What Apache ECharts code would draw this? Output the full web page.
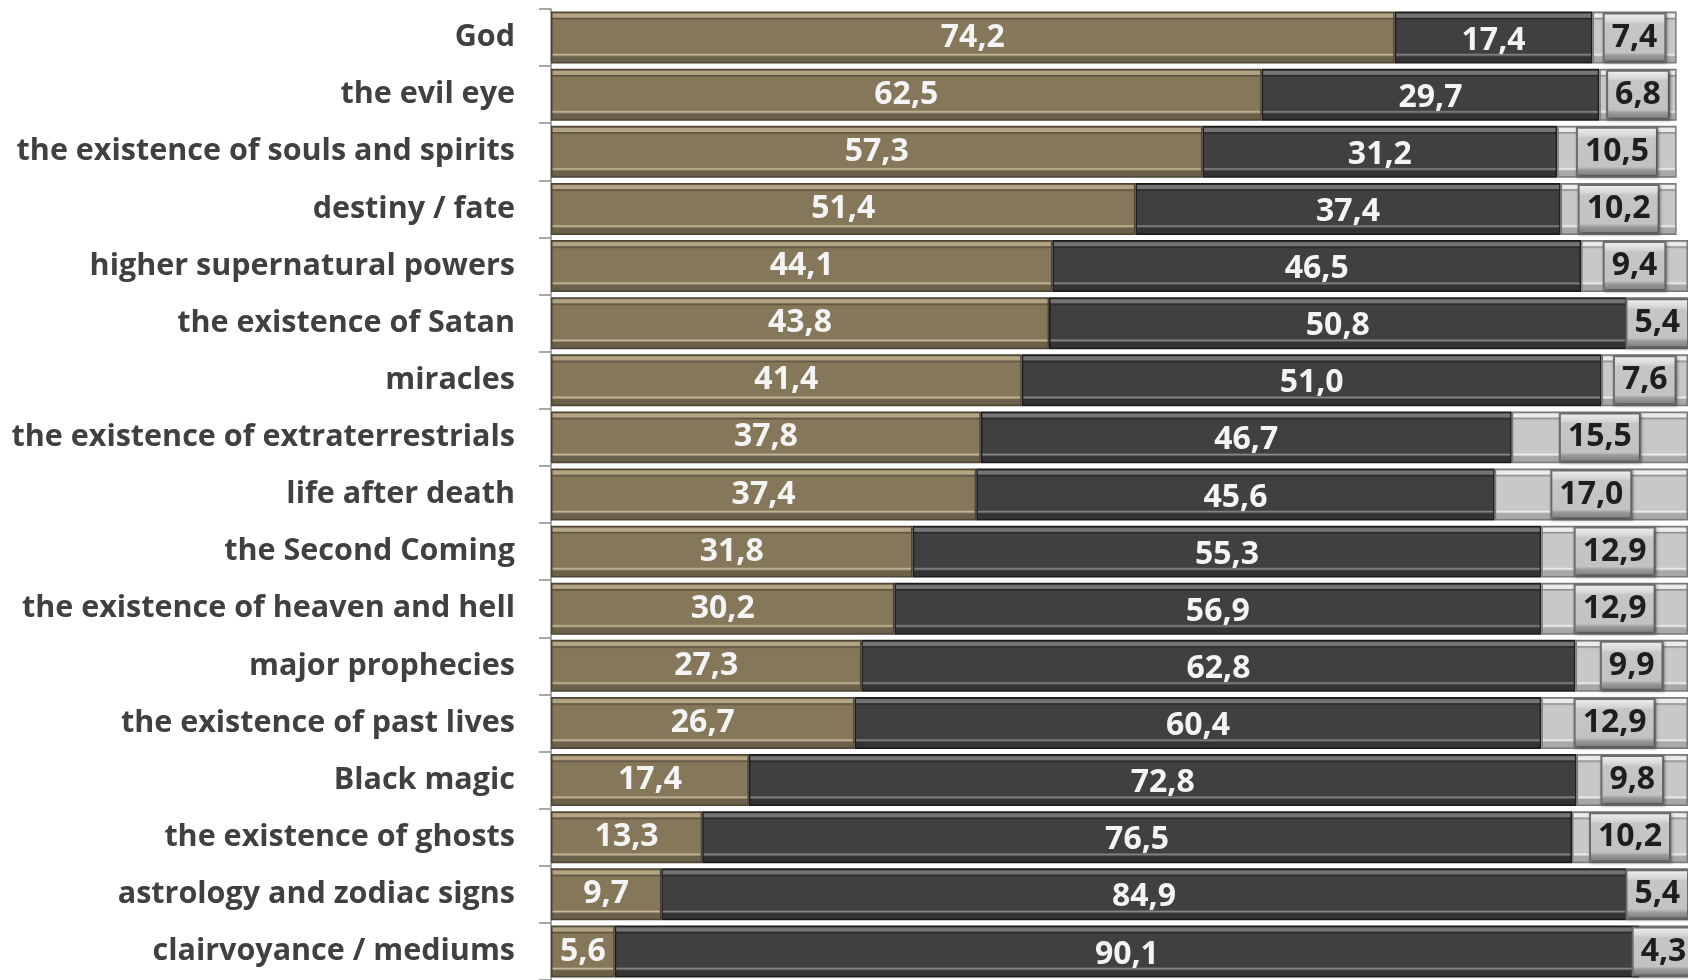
<!DOCTYPE html>
<html>
<head>
<meta charset="utf-8">
<script src="https://cdn.jsdelivr.net/npm/echarts@6/dist/echarts.min.js"></script>
<style>
html,body{margin:0;padding:0;background:#fff;}
#c{width:1688px;height:980px;}
</style>
</head>
<body>
<div id="c"></div>
<script>
var categories = ["God","the evil eye","the existence of souls and spirits","destiny / fate","higher supernatural powers","the existence of Satan","miracles","the existence of extraterrestrials","life after death","the Second Coming","the existence of heaven and hell","major prophecies","the existence of past lives","Black magic","the existence of ghosts","astrology and zodiac signs","clairvoyance / mediums"];
var believe = [74.2,62.5,57.3,51.4,44.1,43.8,41.4,37.8,37.4,31.8,30.2,27.3,26.7,17.4,13.3,9.7,5.6];
var notBelieve = [17.4,29.7,31.2,37.4,46.5,50.8,51.0,46.7,45.6,55.3,56.9,62.8,60.4,72.8,76.5,84.9,90.1];
var dontKnow = [7.4,6.8,10.5,10.2,9.4,5.4,7.6,15.5,17.0,12.9,12.9,9.9,12.9,9.8,10.2,5.4,4.3];

function bevel(edge, hi, innerDark, main, lo, bottom, outer) {
  return new echarts.graphic.LinearGradient(0, 0, 0, 1, [
    {offset: 0, color: outer},
    {offset: 0.03, color: edge},
    {offset: 0.05, color: hi},
    {offset: 0.11, color: hi},
    {offset: 0.13, color: innerDark},
    {offset: 0.17, color: main},
    {offset: 0.80, color: main},
    {offset: 0.83, color: lo},
    {offset: 0.87, color: bottom},
    {offset: 0.96, color: bottom},
    {offset: 1, color: outer}
  ]);
}
var tanFill = bevel('#7d7055', '#b3a584', '#5a5040', '#857759', '#c9bb9b', '#6b604a', '#4a4234');
var darkFill = bevel('#3a3a3a', '#747474', '#262626', '#404040', '#888888', '#333333', '#1e1e1e');
var grayFill = bevel('#b0b0b0', '#ececec', '#8c8c8c', '#c8c8c8', '#f0f0f0', '#a8a8a8', '#7a7a7a');
var boxFill = new echarts.graphic.LinearGradient(0, 0, 0, 1, [
  {offset: 0, color: '#f2f2f2'},
  {offset: 0.18, color: '#d6d6d6'},
  {offset: 0.22, color: '#c6c6c6'},
  {offset: 0.80, color: '#c2c2c2'},
  {offset: 0.86, color: '#9a9a9a'},
  {offset: 1, color: '#7a7a7a'}
]);

function fmt(p){ return p.value.toFixed(1).replace('.', ','); }

var font = '"Open Sans", sans-serif';

var chart = echarts.init(document.getElementById('c'), null, {renderer: 'canvas'});
chart.setOption({
  animation: false,
  grid: {left: 551, top: 9, width: 1139, height: 979, containLabel: false},
  xAxis: {type: 'value', min: 0, max: 100, show: false},
  yAxis: {
    type: 'category', data: categories, inverse: true,
    axisLine: {show: true, lineStyle: {color: '#8c8c8c', width: 1.5}},
    axisTick: {show: true, length: 12, lineStyle: {color: '#8c8c8c', width: 1.5}},
    axisLabel: {color: '#404040', fontFamily: font, fontWeight: 'bold', fontSize: 30.5, margin: 36}
  },
  series: [
    {
      name: 'believe', type: 'bar', stack: 'a', data: believe, barCategoryGap: '9%',
      itemStyle: {color: tanFill, borderColor: '#4e4536', borderWidth: 1.5},
      label: {show: true, position: 'inside', formatter: fmt, color: '#f4f4f4', fontFamily: font, fontWeight: 'bold', fontSize: 32}
    },
    {
      name: 'not believe', type: 'bar', stack: 'a', data: notBelieve,
      itemStyle: {color: darkFill, borderColor: '#1a1a1a', borderWidth: 1.5},
      label: {show: true, position: 'inside', formatter: fmt, color: '#f4f4f4', fontFamily: font, fontWeight: 'bold', fontSize: 32, offset: [0, 3]}
    },
    {
      name: "don't know", type: 'bar', stack: 'a', data: dontKnow,
      itemStyle: {color: grayFill, borderColor: '#7a7a7a', borderWidth: 1.5},
      label: {show: true, position: 'inside', formatter: fmt, color: '#1e1e1e', fontFamily: font, fontWeight: 'bold', fontSize: 32,
        backgroundColor: boxFill, borderColor: '#6e6e6e', borderWidth: 2, padding: [8, 7, 6, 7],
        shadowColor: 'rgba(0,0,0,0.35)', shadowBlur: 3, shadowOffsetX: 1, shadowOffsetY: 1}
    }
  ]
});
</script>
</body>
</html>
